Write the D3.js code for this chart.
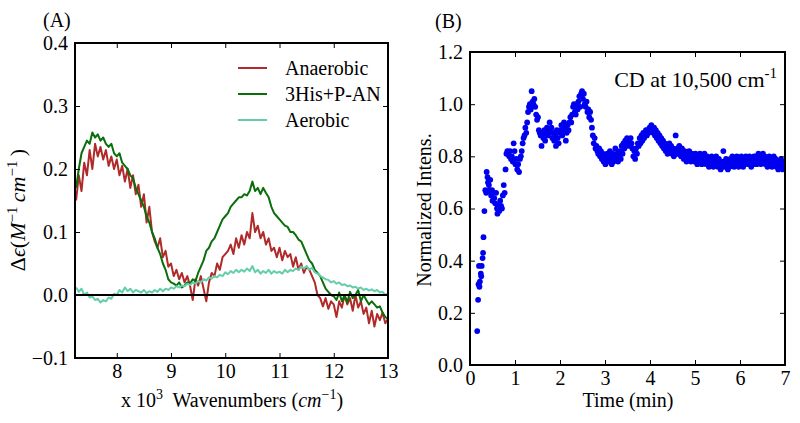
<!DOCTYPE html>
<html><head><meta charset="utf-8">
<script src="https://cdn.jsdelivr.net/npm/d3@7"></script>
<style>
body{margin:0;background:#fff;}
svg{display:block;}
text{font-family:"Liberation Serif","Times New Roman",serif;fill:#000;}
</style>
</head><body>
<svg id="c" width="800" height="423"></svg>
<script>
// ---------- Panel A data: CD spectra (x 10^3 cm^-1) ----------
const wnStart = 7.25, wnStep = 0.05;
const wavenumber = d3.range(116).map(i => +(wnStart + i * wnStep).toFixed(2));
const anaerobic = [
  0.15,0.19,0.165,0.21,0.19,0.23,0.20,0.24,0.22,0.235,
  0.215,0.23,0.205,0.22,0.20,0.215,0.19,0.205,0.18,0.20,
  0.17,0.19,0.16,0.175,0.14,0.16,0.115,0.14,0.10,0.085,
  0.075,0.09,0.06,0.07,0.045,0.05,0.03,0.04,0.025,0.035,
  0.02,0.03,0.015,-0.008,0.025,0.015,0.03,0.01,-0.01,0.02,
  0.035,0.03,0.05,0.04,0.06,0.065,0.07,0.08,0.065,0.09,
  0.075,0.095,0.08,0.10,0.09,0.13,0.10,0.11,0.09,0.10,
  0.08,0.09,0.07,0.075,0.06,0.075,0.055,0.07,0.06,0.065,
  0.045,0.06,0.04,0.05,0.035,0.045,0.04,0.03,0.02,0.0,
  -0.005,-0.018,-0.005,-0.022,-0.01,-0.015,-0.035,-0.01,-0.02,0.0,
  -0.015,-0.005,-0.025,0.0,-0.02,-0.01,-0.03,-0.02,-0.045,-0.025,
  -0.05,-0.03,-0.04,-0.028,-0.045,-0.038
];
const hisPAN = [
  0.17,0.20,0.225,0.235,0.245,0.24,0.258,0.25,0.255,0.245,
  0.25,0.24,0.235,0.24,0.225,0.22,0.225,0.21,0.205,0.20,
  0.19,0.185,0.17,0.16,0.15,0.14,0.125,0.115,0.10,0.09,
  0.075,0.065,0.05,0.04,0.025,0.02,0.018,0.015,0.02,0.012,
  0.015,0.02,0.018,0.025,0.022,0.035,0.045,0.055,0.07,0.075,
  0.085,0.09,0.10,0.11,0.12,0.125,0.13,0.14,0.145,0.15,
  0.155,0.155,0.16,0.158,0.165,0.18,0.165,0.17,0.16,0.17,
  0.162,0.155,0.14,0.13,0.125,0.12,0.115,0.11,0.108,0.10,
  0.10,0.095,0.088,0.085,0.075,0.065,0.055,0.05,0.04,0.035,
  0.03,0.02,0.01,0.005,0.0,-0.002,-0.008,0.004,-0.01,0.0,
  -0.012,0.005,-0.005,0.0,0.008,-0.01,0.0,-0.008,-0.015,-0.01,
  -0.015,-0.02,-0.018,-0.028,-0.035,-0.038
];
const aerobic = [
  0.012,0.005,0.01,0.0,0.004,-0.004,-0.002,-0.008,-0.006,-0.012,
  -0.008,-0.01,-0.004,-0.006,0.002,0.0,0.008,0.004,0.012,0.006,
  0.01,0.004,0.008,0.006,0.004,0.008,0.003,0.006,0.004,0.008,
  0.005,0.01,0.006,0.01,0.008,0.012,0.01,0.014,0.012,0.015,
  0.014,0.018,0.016,0.02,0.018,0.022,0.02,0.025,0.023,0.028,
  0.026,0.03,0.028,0.032,0.03,0.036,0.033,0.038,0.035,0.04,
  0.036,0.04,0.037,0.042,0.038,0.046,0.036,0.04,0.034,0.038,
  0.035,0.04,0.034,0.038,0.035,0.037,0.034,0.04,0.036,0.04,
  0.038,0.042,0.04,0.045,0.042,0.046,0.04,0.043,0.036,0.034,
  0.03,0.028,0.025,0.024,0.02,0.022,0.018,0.02,0.016,0.017,
  0.014,0.015,0.012,0.013,0.01,0.012,0.008,0.01,0.007,0.009,
  0.006,0.008,0.004,0.005,0.0,0.002
];
const seriesNames = ["Anaerobic", "3His+P-AN", "Aerobic"];
const seriesColors = ["#b02a2a", "#0a6e0a", "#66cdaa"];
const aXTicks = [8, 9, 10, 11, 12, 13];
const aYTicks = [-0.1, 0.0, 0.1, 0.2, 0.3, 0.4];

// ---------- Panel B data: CD at 10,500 cm^-1 vs time ----------
const cdKinetics = [
  [0.16,0.13],[0.18,0.25],[0.19,0.31],[0.20,0.38],[0.21,0.30],[0.22,0.32],[0.24,0.35],[0.25,0.34],[0.26,0.38],[0.28,0.41],
  [0.29,0.43],[0.30,0.49],[0.32,0.59],[0.34,0.67],[0.36,0.66],[0.37,0.74],[0.39,0.72],[0.40,0.70],[0.42,0.69],[0.43,0.67],
  [0.45,0.71],[0.47,0.65],[0.49,0.67],[0.50,0.63],[0.52,0.66],[0.54,0.64],[0.56,0.62],[0.58,0.66],[0.60,0.60],[0.61,0.58],
  [0.63,0.61],[0.65,0.59],[0.67,0.63],[0.69,0.61],[0.71,0.60],[0.73,0.65],[0.75,0.69],[0.77,0.66],[0.79,0.75],
  [0.81,0.81],[0.83,0.82],[0.85,0.81],[0.87,0.80],[0.89,0.82],[0.91,0.79],[0.93,0.80],[0.95,0.78],[0.97,0.85],[0.99,0.82],
  [1.01,0.77],[1.03,0.79],[1.05,0.75],[1.07,0.77],[1.09,0.74],[1.11,0.79],[1.13,0.80],[1.15,0.82],[1.17,0.85],[1.19,0.87],
  [1.21,0.88],[1.23,0.91],[1.25,0.89],[1.27,0.93],[1.29,0.97],[1.31,0.99],[1.33,1.00],[1.35,0.98],[1.37,1.05],[1.39,1.01],
  [1.41,1.00],[1.43,1.02],[1.45,0.99],[1.47,0.96],[1.49,0.94],[1.51,0.95],
  [1.53,0.90],[1.55,0.89],[1.57,0.88],[1.59,0.84],[1.61,0.88],[1.63,0.87],[1.65,0.90],[1.67,0.86],[1.69,0.89],[1.71,0.91],
  [1.73,0.88],[1.75,0.90],[1.77,0.93],[1.79,0.89],[1.81,0.91],[1.83,0.87],[1.85,0.89],[1.87,0.86],[1.89,0.88],[1.91,0.84],
  [1.93,0.90],[1.95,0.87],[1.97,0.85],[1.99,0.89],[2.01,0.90],[2.03,0.92],[2.05,0.88],[2.07,0.90],[2.09,0.93],[2.11,0.91],
  [2.13,0.86],[2.15,0.89],[2.17,0.92],[2.19,0.90],[2.21,0.93],[2.23,0.95],[2.25,0.93],[2.27,0.96],[2.29,0.99],[2.31,1.00],
  [2.33,0.97],[2.35,0.96],
  [2.37,1.00],[2.39,0.98],[2.41,1.01],[2.43,1.03],[2.45,0.99],[2.47,1.04],[2.49,1.05],[2.51,1.02],[2.53,1.04],[2.55,1.00],
  [2.57,0.99],[2.59,1.01],[2.61,0.97],[2.63,0.98],[2.65,0.95],[2.67,0.97],[2.69,0.94],[2.71,0.91],[2.73,0.88],[2.75,0.85],
  [2.77,0.87],[2.79,0.83],[2.81,0.84],[2.83,0.82],[2.85,0.81],[2.87,0.83],[2.89,0.80],[2.91,0.82],[2.93,0.79],[2.95,0.81],
  [2.97,0.78],[2.99,0.80],
  [3.01,0.77],[3.03,0.79],[3.05,0.81],[3.07,0.78],[3.09,0.80],[3.11,0.82],[3.13,0.79],[3.15,0.77],[3.17,0.81],[3.19,0.78],
  [3.21,0.80],[3.23,0.83],[3.25,0.79],[3.27,0.81],[3.29,0.78],[3.31,0.80],[3.33,0.82],[3.35,0.79],[3.37,0.84],[3.39,0.81],
  [3.41,0.85],[3.43,0.83],[3.45,0.86],[3.47,0.84],[3.49,0.87],[3.51,0.85],[3.53,0.86],[3.55,0.84],[3.57,0.87],[3.59,0.85],
  [3.61,0.83],[3.63,0.80],[3.65,0.82],[3.67,0.79],[3.69,0.83],[3.71,0.81],[3.73,0.85],[3.75,0.84],[3.77,0.87],[3.79,0.85],
  [3.81,0.88],[3.83,0.86],[3.85,0.89],[3.87,0.87],[3.89,0.88],[3.91,0.90],[3.93,0.88],[3.95,0.90],[3.97,0.89],[3.99,0.91],
  [4.01,0.90],[4.03,0.92],[4.05,0.91],[4.07,0.89],[4.09,0.91],[4.11,0.88],[4.13,0.90],[4.15,0.87],[4.17,0.89],[4.19,0.86],
  [4.21,0.88],[4.23,0.85],[4.25,0.87],[4.27,0.84],[4.29,0.86],[4.31,0.83],[4.33,0.85],[4.35,0.82],[4.37,0.84],[4.39,0.81],
  [4.41,0.83],[4.43,0.85],[4.45,0.82],[4.47,0.84],[4.49,0.81],[4.51,0.83],[4.53,0.80],[4.55,0.82],[4.57,0.88],[4.59,0.81],
  [4.61,0.83],[4.63,0.81],[4.65,0.84],[4.67,0.82],[4.69,0.80],[4.71,0.83],[4.73,0.81],[4.75,0.79],[4.77,0.82],[4.79,0.80],
  [4.81,0.78],[4.83,0.81],[4.85,0.79],[4.87,0.82],[4.89,0.80],[4.91,0.78],[4.93,0.81],[4.95,0.79],[4.97,0.80],[4.99,0.78],
  [5.01,0.81],[5.03,0.79],[5.05,0.77],[5.07,0.80],[5.09,0.78],[5.11,0.81],[5.13,0.79],[5.15,0.77],[5.17,0.80],[5.19,0.78],
  [5.21,0.81],[5.23,0.79],[5.25,0.77],[5.27,0.80],[5.29,0.78],[5.31,0.76],[5.33,0.79],[5.35,0.77],[5.37,0.80],[5.39,0.78],
  [5.41,0.76],[5.43,0.79],[5.45,0.77],[5.47,0.80],[5.49,0.78],[5.51,0.76],[5.53,0.79],[5.55,0.77],[5.57,0.75],[5.59,0.78],
  [5.61,0.76],[5.63,0.82],[5.65,0.78],[5.67,0.76],[5.69,0.79],[5.71,0.77],[5.73,0.75],[5.75,0.78],[5.77,0.76],[5.79,0.79],
  [5.81,0.77],[5.83,0.80],[5.85,0.78],[5.87,0.76],[5.89,0.79],[5.91,0.77],[5.93,0.80],[5.95,0.78],[5.97,0.76],[5.99,0.79],
  [6.01,0.77],[6.03,0.80],[6.05,0.78],[6.07,0.76],[6.09,0.79],[6.11,0.77],[6.13,0.80],[6.15,0.78],[6.17,0.79],[6.19,0.77],
  [6.21,0.80],[6.23,0.78],[6.25,0.76],[6.27,0.79],[6.29,0.77],[6.31,0.80],[6.33,0.78],[6.35,0.80],[6.37,0.77],[6.39,0.79],
  [6.41,0.81],[6.43,0.78],[6.45,0.80],[6.47,0.77],[6.49,0.79],[6.51,0.81],[6.53,0.78],[6.55,0.80],[6.57,0.77],[6.59,0.79],
  [6.61,0.76],[6.63,0.78],[6.65,0.80],[6.67,0.77],[6.69,0.79],[6.71,0.76],[6.73,0.78],[6.75,0.80],[6.77,0.77],[6.79,0.79],
  [6.81,0.76],[6.83,0.78],[6.85,0.75],[6.87,0.78],[6.89,0.76],[6.91,0.79],[6.93,0.77],[6.95,0.75],[6.97,0.78],[6.99,0.76]
];
const bXTicks = [0, 1, 2, 3, 4, 5, 6, 7];
const bYTicks = [0.0, 0.2, 0.4, 0.6, 0.8, 1.0, 1.2];

// ---------- drawing ----------
const svg = d3.select("#c");
const FS = 20;

function frameAxes(x, y, xTicks, yTicks, fx, fy) {
  const [x0, x1] = x.range(), [y0, y1] = y.range();
  const g = svg.append("g");
  const style = sel => {
    sel.select(".domain").remove();
    sel.selectAll(".tick line").attr("stroke", "#000").attr("stroke-width", 1);
    sel.selectAll(".tick text").attr("font-size", FS).attr("font-family", "Liberation Serif, serif").attr("fill", "#000");
  };
  g.append("g").attr("transform", `translate(0,${y0})`)
    .call(d3.axisBottom(x).tickValues(xTicks).tickSize(-5).tickPadding(6).tickFormat(fx)).call(style);
  g.append("g").attr("transform", `translate(0,${y1})`)
    .call(d3.axisTop(x).tickValues(xTicks).tickSize(-5).tickFormat("")).call(style);
  g.append("g").attr("transform", `translate(${x0},0)`)
    .call(d3.axisLeft(y).tickValues(yTicks).tickSize(-5).tickPadding(7).tickFormat(fy)).call(style);
  g.append("g").attr("transform", `translate(${x1},0)`)
    .call(d3.axisRight(y).tickValues(yTicks).tickSize(-5).tickFormat("")).call(style);
  g.append("rect").attr("x", x0).attr("y", y1).attr("width", x1 - x0).attr("height", y0 - y1)
    .attr("fill", "none").attr("stroke", "#000").attr("stroke-width", 2);
}

// Panel A
const xA = d3.scaleLinear().domain([7.23, 13]).range([75, 388]);
const yA = d3.scaleLinear().domain([-0.1, 0.4]).range([358, 43]);
svg.append("clipPath").attr("id", "clipA").append("rect")
  .attr("x", 75).attr("y", 43).attr("width", 313).attr("height", 315);
const lineA = d3.line().x(d => xA(d[0])).y(d => yA(d[1]));
const gA = svg.append("g").attr("clip-path", "url(#clipA)");
[anaerobic, hisPAN, aerobic].forEach((vals, k) => {
  gA.append("path").datum(wavenumber.map((w, i) => [w, vals[i]]))
    .attr("d", lineA).attr("fill", "none").attr("stroke", seriesColors[k])
    .attr("stroke-width", 2).attr("stroke-linejoin", "round");
});
gA.append("line").attr("x1", 75).attr("x2", 388).attr("y1", yA(0)).attr("y2", yA(0))
  .attr("stroke", "#000").attr("stroke-width", 2);
frameAxes(xA, yA, aXTicks, aYTicks, d3.format("d"), d3.format(".1f"));

// legend
const leg = svg.append("g");
seriesNames.forEach((n, k) => {
  const yy = 68 + k * 26;
  leg.append("line").attr("x1", 238).attr("x2", 267).attr("y1", yy).attr("y2", yy)
    .attr("stroke", seriesColors[k]).attr("stroke-width", 2);
  leg.append("text").attr("x", 285).attr("y", yy + 7).attr("font-size", FS).text(n);
});

svg.append("text").attr("x", 43).attr("y", 27).attr("font-size", FS).text("(A)");

// x label A
const xtA = svg.append("text").attr("x", 232).attr("y", 407).attr("text-anchor", "middle").attr("font-size", FS);
xtA.append("tspan").text("x 10");
xtA.append("tspan").attr("dy", -8).attr("font-size", 14).text("3");
xtA.append("tspan").attr("dy", 8).text("\u00a0 Wavenumbers (");
xtA.append("tspan").attr("font-style", "italic").text("cm");
xtA.append("tspan").attr("dy", -8).attr("font-size", 14).text("\u22121");
xtA.append("tspan").attr("dy", 8).text(")");

// y label A
const ytA = svg.append("text").attr("transform", "translate(25,210) rotate(-90)")
  .attr("text-anchor", "middle").attr("font-size", 22);
ytA.append("tspan").text("\u0394");
ytA.append("tspan").attr("font-style", "italic").text("\u03f5");
ytA.append("tspan").text("(");
ytA.append("tspan").attr("font-style", "italic").text("M");
ytA.append("tspan").attr("dy", -8).attr("font-size", 15).text("\u22121");
ytA.append("tspan").attr("dy", 8).attr("font-style", "italic").text("\u2009cm");
ytA.append("tspan").attr("dy", -8).attr("font-size", 15).text("\u22121");
ytA.append("tspan").attr("dy", 8).text("\u2009)");

// Panel B
const xB = d3.scaleLinear().domain([0, 7]).range([470, 785]);
const yB = d3.scaleLinear().domain([0, 1.2]).range([365, 52]);
svg.append("clipPath").attr("id", "clipB").append("rect")
  .attr("x", 470).attr("y", 52).attr("width", 315).attr("height", 313);
svg.append("g").attr("clip-path", "url(#clipB)").selectAll("circle").data(cdKinetics).join("circle")
  .attr("cx", d => xB(d[0])).attr("cy", d => yB(d[1])).attr("r", 2.9).attr("fill", "#0000f0");
frameAxes(xB, yB, bXTicks, bYTicks, d3.format("d"), d3.format(".1f"));

svg.append("text").attr("x", 435).attr("y", 28).attr("font-size", FS).text("(B)");

const ann = svg.append("text").attr("x", 777).attr("y", 87).attr("text-anchor", "end").attr("font-size", 22);
ann.append("tspan").text("CD at 10,500 cm");
ann.append("tspan").attr("dy", -9).attr("font-size", 15).text("-1");

svg.append("text").attr("x", 628).attr("y", 407).attr("text-anchor", "middle").attr("font-size", FS).text("Time (min)");
svg.append("text").attr("transform", "translate(431,210) rotate(-90)").attr("text-anchor", "middle")
  .attr("font-size", FS).text("Normalized Intens.");
</script>
</body></html>
